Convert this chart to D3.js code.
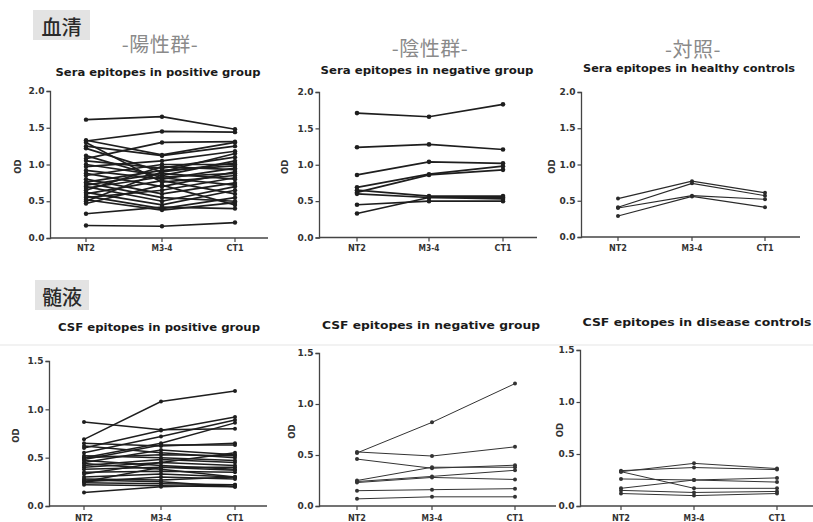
<!DOCTYPE html>
<html><head><meta charset="utf-8">
<script src="https://cdn.jsdelivr.net/npm/d3@7"></script>
<style>body{margin:0;background:#fff}svg{display:block}</style>
</head><body>
<svg id="c" width="813" height="522"></svg>
<script>
// ---------- data ----------
const categories = ["NT2", "M3-4", "CT1"];
const yTicksSera = [0, 0.5, 1.0, 1.5, 2.0];
const yTicksCsf = [0, 0.5, 1.0, 1.5];
const sectionLabels = ["血清", "髄液"];
const groupLabels = ["-陽性群-", "-陰性群-", "-対照-"];
const panelTitles = [
  "Sera epitopes in positive group",
  "Sera epitopes in negative group",
  "Sera epitopes in healthy controls",
  "CSF epitopes in positive group",
  "CSF epitopes in negative group",
  "CSF epitopes in disease controls"
];
const yAxisLabel = "OD";

const seraPositive = [
  [1.61, 1.65, 1.48], [1.32, 1.45, 1.44], [1.33, 1.13, 1.30], [1.30, 0.76, 0.85],
  [1.08, 1.30, 1.31], [1.25, 1.12, 1.25], [1.22, 0.90, 1.15], [1.05, 0.95, 1.10],
  [1.00, 0.85, 1.05], [0.97, 1.05, 1.18], [0.92, 0.80, 0.95], [0.88, 0.70, 0.90],
  [0.85, 1.00, 1.00], [0.80, 0.60, 0.75], [0.76, 0.92, 0.98], [0.72, 0.88, 0.80],
  [0.70, 0.50, 0.70], [0.68, 0.83, 0.88], [0.65, 0.97, 0.93], [0.62, 0.45, 0.65],
  [0.60, 0.78, 0.60], [0.57, 0.40, 0.55], [0.55, 0.65, 0.82], [0.52, 0.38, 0.48],
  [0.50, 0.90, 1.02], [0.47, 0.72, 0.45], [0.33, 0.42, 0.40], [0.17, 0.16, 0.21],
  [0.75, 0.55, 0.50], [1.12, 0.82, 0.72]
];
const seraNegative = [
  [1.71, 1.66, 1.83], [1.24, 1.28, 1.21], [0.86, 1.04, 1.02], [0.69, 0.87, 0.98],
  [0.62, 0.86, 0.93], [0.65, 0.57, 0.57], [0.60, 0.55, 0.53], [0.45, 0.50, 0.50],
  [0.33, 0.55, 0.55]
];
const seraHealthy = [
  [0.53, 0.77, 0.61], [0.41, 0.74, 0.57], [0.40, 0.57, 0.52], [0.29, 0.56, 0.41]
];
const csfPositive = [
  [0.69, 1.08, 1.19], [0.87, 0.79, 0.80], [0.60, 0.78, 0.92], [0.55, 0.72, 0.89],
  [0.50, 0.65, 0.86], [0.65, 0.62, 0.65], [0.48, 0.63, 0.63], [0.45, 0.58, 0.53],
  [0.62, 0.55, 0.50], [0.52, 0.50, 0.47], [0.42, 0.48, 0.45], [0.40, 0.45, 0.42],
  [0.47, 0.42, 0.38], [0.38, 0.40, 0.40], [0.35, 0.36, 0.35], [0.30, 0.33, 0.30],
  [0.28, 0.27, 0.30], [0.25, 0.30, 0.28], [0.24, 0.23, 0.22], [0.22, 0.21, 0.20],
  [0.14, 0.20, 0.22], [0.27, 0.25, 0.20], [0.33, 0.45, 0.55], [0.44, 0.38, 0.30],
  [0.50, 0.53, 0.52], [0.25, 0.40, 0.37]
];
const csfNegative = [
  [0.52, 0.82, 1.20], [0.53, 0.49, 0.58], [0.46, 0.37, 0.40], [0.25, 0.38, 0.38],
  [0.24, 0.29, 0.35], [0.23, 0.28, 0.26], [0.15, 0.16, 0.17], [0.07, 0.09, 0.09]
];
const csfDiseaseCtrl = [
  [0.33, 0.41, 0.36], [0.34, 0.37, 0.35], [0.33, 0.17, 0.17], [0.26, 0.25, 0.27],
  [0.17, 0.25, 0.23], [0.15, 0.13, 0.14], [0.12, 0.10, 0.12]
];

// ---------- layout ----------
const layout = [
  {data: seraPositive, ticks: yTicksSera, ax: 50, xEnd: 268, y0: 238, yTop: 91, cx: [86, 162, 235], tx: 158, ty: 72, tw: 205, odX: 18, sw: 1.7, col: "#1e1e1e", r: 2.2, labY: 248},
  {data: seraNegative, ticks: yTicksSera, ax: 319, xEnd: 537, y0: 237.5, yTop: 92, cx: [357, 429, 503], tx: 427, ty: 70, tw: 213, odX: 285, sw: 1.7, col: "#1e1e1e", r: 2.3, labY: 248},
  {data: seraHealthy, ticks: yTicksSera, ax: 581, xEnd: 800, y0: 237, yTop: 92, cx: [618, 692, 765], tx: 689, ty: 68, tw: 212, odX: 552, sw: 1.2, col: "#2a2a2a", r: 2.0, labY: 248},
  {data: csfPositive, ticks: yTicksCsf, ax: 49, xEnd: 267, y0: 506, yTop: 361, cx: [84, 161, 235], tx: 159, ty: 327, tw: 202, odX: 16, sw: 1.5, col: "#1e1e1e", r: 2.0, labY: 518},
  {data: csfNegative, ticks: yTicksCsf, ax: 319, xEnd: 556, y0: 506, yTop: 353, cx: [357, 432, 515], tx: 431, ty: 325, tw: 218, odX: 292, sw: 1.0, col: "#333", r: 2.0, labY: 518},
  {data: csfDiseaseCtrl, ticks: yTicksCsf, ax: 580, xEnd: 813, y0: 506, yTop: 350, cx: [621, 694, 777], tx: 697, ty: 322, tw: 229, odX: 560, sw: 1.0, col: "#333", r: 2.0, labY: 518}
];
const sectionBoxes = [{x: 33, y: 10, w: 57, h: 30}, {x: 35, y: 280, w: 54, h: 30}];
const groupPos = [{x: 160, y: 43}, {x: 430, y: 47}, {x: 693, y: 48}];
const xLabelWidths = [18, 21, 17];

const svg = d3.select("#c");
const boldFont = "'DejaVu Sans', Verdana, sans-serif";

// faint scan line
svg.append("line").attr("x1", 0).attr("x2", 813).attr("y1", 345).attr("y2", 345)
  .attr("stroke", "#e6e6e6").attr("stroke-width", 1.2);

// section labels
sectionLabels.forEach((s, i) => {
  const b = sectionBoxes[i];
  svg.append("rect").attr("x", b.x).attr("y", b.y).attr("width", b.w).attr("height", b.h).attr("fill", "#e3e3e3");
  svg.append("text").attr("x", b.x + b.w / 2).attr("y", b.y + b.h / 2 + 1)
    .attr("text-anchor", "middle").attr("dominant-baseline", "central")
    .attr("font-family", "'Noto Sans CJK JP', sans-serif").attr("font-size", 20)
    .attr("font-weight", 500).attr("fill", "#2a2a2a").text(s);
});

// group labels
groupLabels.forEach((g, i) => {
  svg.append("text").attr("x", groupPos[i].x).attr("y", groupPos[i].y)
    .attr("text-anchor", "middle").attr("dominant-baseline", "central")
    .attr("font-family", "'Noto Sans CJK JP', sans-serif").attr("font-size", 20)
    .attr("letter-spacing", 0.5).attr("fill", "#8a8a8a").text(g);
});

layout.forEach((p, i) => {
  const g = svg.append("g");
  const yMax = d3.max(p.ticks);
  const y = d3.scaleLinear().domain([0, yMax]).range([p.y0, p.yTop]);
  const x = d3.scaleOrdinal().domain(categories).range(p.cx);

  // title
  g.append("text").attr("x", p.tx).attr("y", p.ty)
    .attr("text-anchor", "middle").attr("dominant-baseline", "central")
    .attr("font-family", boldFont).attr("font-weight", "bold").attr("font-size", 10.5)
    .attr("textLength", p.tw).attr("lengthAdjust", "spacingAndGlyphs")
    .attr("fill", "#1a1a1a").text(panelTitles[i]);

  // y axis
  const yAxis = d3.axisLeft(y).tickValues(p.ticks).tickFormat(d3.format(".1f")).tickSize(3.5).tickPadding(2);
  const ya = g.append("g").attr("transform", `translate(${p.ax},0)`).call(yAxis);
  ya.select(".domain").attr("stroke", "#444").attr("stroke-width", 1.3);
  ya.selectAll(".tick line").attr("stroke", "#444").attr("stroke-width", 1.2);
  ya.selectAll(".tick text").attr("font-family", boldFont).attr("font-weight", "bold")
    .attr("font-size", 8.5).attr("textLength", 16).attr("lengthAdjust", "spacingAndGlyphs")
    .attr("fill", "#333");

  // x axis
  g.append("line").attr("x1", p.ax).attr("x2", p.xEnd).attr("y1", p.y0).attr("y2", p.y0)
    .attr("stroke", "#444").attr("stroke-width", 1.4);
  categories.forEach((c, k) => {
    g.append("line").attr("x1", x(c)).attr("x2", x(c)).attr("y1", p.y0).attr("y2", p.y0 + 4)
      .attr("stroke", "#444").attr("stroke-width", 1.2);
    g.append("text").attr("x", x(c)).attr("y", p.labY).attr("text-anchor", "middle")
      .attr("dominant-baseline", "central").attr("font-family", boldFont).attr("font-weight", "bold")
      .attr("font-size", 8).attr("textLength", xLabelWidths[k]).attr("lengthAdjust", "spacingAndGlyphs")
      .attr("fill", "#333").text(c);
  });

  // OD label
  g.append("text").attr("transform", `translate(${p.odX},${(p.y0 + p.yTop) / 2 + 2}) rotate(-90)`)
    .attr("text-anchor", "middle").attr("dominant-baseline", "central")
    .attr("font-family", boldFont).attr("font-weight", "bold").attr("font-size", 8.5)
    .attr("fill", "#333").text(yAxisLabel);

  // lines
  const line = d3.line().x((d, j) => x(categories[j])).y(d => y(d));
  g.selectAll("path.s").data(p.data).enter().append("path")
    .attr("d", line).attr("fill", "none").attr("stroke", p.col).attr("stroke-width", p.sw);
  p.data.forEach(series => {
    g.selectAll(null).data(series).enter().append("circle")
      .attr("cx", (d, j) => x(categories[j])).attr("cy", d => y(d)).attr("r", p.r).attr("fill", p.col);
  });
});
</script>
</body></html>
